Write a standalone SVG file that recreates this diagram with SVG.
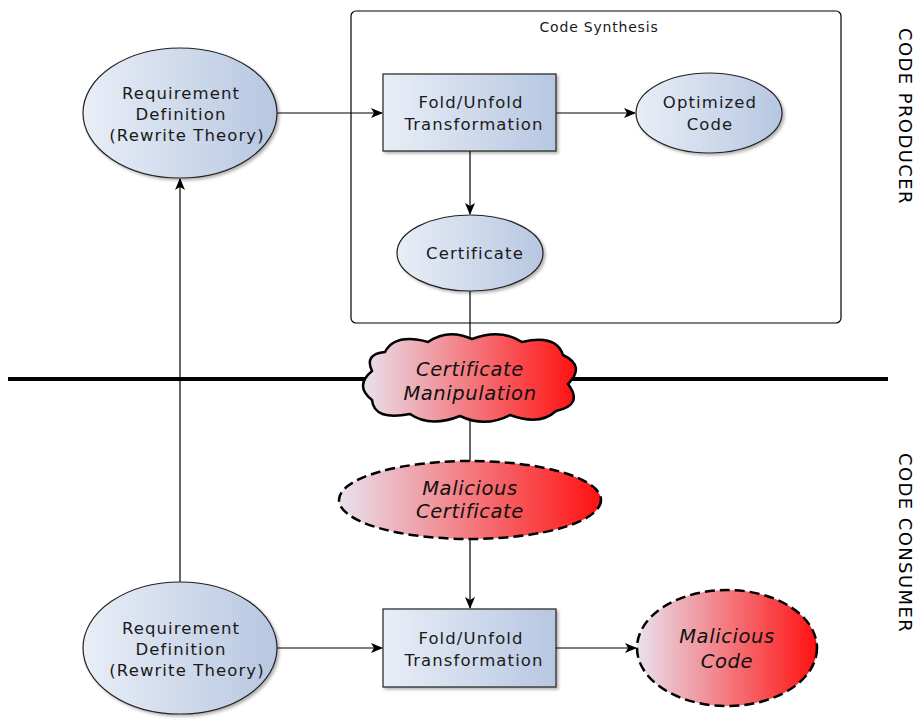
<svg xmlns="http://www.w3.org/2000/svg" width="922" height="722" viewBox="0 0 922 722">
<defs>
<linearGradient id="blue" x1="0" y1="0" x2="1" y2="0">
<stop offset="0" stop-color="#e9eef7"/>
<stop offset="1" stop-color="#b7c7e1"/>
</linearGradient>
<linearGradient id="red" x1="0" y1="0" x2="1" y2="0">
<stop offset="0" stop-color="#e8e2ee"/>
<stop offset="1" stop-color="#ff1111"/>
</linearGradient>
<filter id="sh" x="-10%" y="-10%" width="130%" height="130%">
<feDropShadow dx="2" dy="2" stdDeviation="1.5" flood-color="#000" flood-opacity="0.3"/>
</filter>
<marker id="arr" viewBox="0 0 12 10" refX="11" refY="5" markerWidth="12" markerHeight="10" markerUnits="userSpaceOnUse" orient="auto">
<path d="M0,0 L12,5 L0,10 L3,5 Z" fill="#000"/>
</marker>
<style>
.lbl{font-family:"DejaVu Sans",sans-serif;font-size:16.5px;letter-spacing:1.1px;fill:#1a1a1a;text-anchor:middle}
.it{font-family:"DejaVu Sans",sans-serif;font-size:19.5px;letter-spacing:0.6px;font-style:italic;fill:#111;text-anchor:middle}
.side{font-family:"DejaVu Sans",sans-serif;font-size:18px;letter-spacing:1.4px;fill:#000}
.bn{fill:url(#blue);stroke:#222;stroke-width:1.2}
.rn{fill:url(#red);stroke:#000;stroke-width:2.5}
.dash{stroke-dasharray:10,5}
.c{fill:none;stroke:#000;stroke-width:1.2}
</style>
</defs>
<rect x="0" y="0" width="922" height="722" fill="#fff"/>

<g id="codeSynthesis">
<rect x="351" y="11" width="490" height="312" rx="5" fill="none" stroke="#000" stroke-width="1.2"/>
<text x="599" y="32" class="lbl" style="font-size:14px;letter-spacing:0.8px">Code Synthesis</text>
</g>

<g id="divider">
<line x1="8" y1="379" x2="888" y2="379" stroke="#000" stroke-width="4"/>
</g>

<g id="connectors">
<line x1="277" y1="113" x2="382" y2="113" class="c" marker-end="url(#arr)"/>
<line x1="556" y1="113" x2="635" y2="113" class="c" marker-end="url(#arr)"/>
<line x1="470" y1="151" x2="470" y2="214" class="c" marker-end="url(#arr)"/>
<line x1="470" y1="291" x2="470" y2="340" class="c"/>
<line x1="470" y1="418" x2="470" y2="461" class="c"/>
<line x1="470" y1="539" x2="470" y2="608" class="c" marker-end="url(#arr)"/>
<line x1="180" y1="582" x2="180" y2="179" class="c" marker-end="url(#arr)"/>
<line x1="277" y1="648" x2="382" y2="648" class="c" marker-end="url(#arr)"/>
<line x1="556" y1="648" x2="636" y2="648" class="c" marker-end="url(#arr)"/>
</g>

<g id="reqTop">
<ellipse cx="180" cy="113" rx="97" ry="65" class="bn" filter="url(#sh)"/>
<text x="181" y="99" class="lbl">Requirement</text>
<text x="181" y="120" class="lbl">Definition</text>
<text x="187" y="141" class="lbl">(Rewrite Theory)</text>
</g>

<g id="foldTop">
<rect x="383" y="74" width="173" height="77" class="bn" filter="url(#sh)"/>
<text x="471" y="108" class="lbl">Fold/Unfold</text>
<text x="474" y="130" class="lbl">Transformation</text>
</g>

<g id="optimized">
<ellipse cx="709" cy="113" rx="73" ry="40" class="bn" filter="url(#sh)"/>
<text x="710" y="108" class="lbl">Optimized</text>
<text x="710" y="130" class="lbl">Code</text>
</g>

<g id="certificate">
<ellipse cx="470" cy="253" rx="73" ry="38" class="bn" filter="url(#sh)"/>
<text x="475" y="259" class="lbl">Certificate</text>
</g>

<g id="manipulation">
<path d="M385,352 Q395,333 428,342 Q448,328 472,339 Q500,328 522,342 Q556,334 563,355 Q586,366 568,384 Q584,405 556,411 Q540,426 510,415 Q485,428 460,416 Q430,428 410,414 Q374,421 372,400 Q354,386 372,371 Q364,354 385,352 Z" class="rn"/>
<text x="470" y="376" class="it">Certificate</text>
<text x="470" y="400" class="it">Manipulation</text>
</g>

<g id="malCert">
<ellipse cx="470" cy="500" rx="131" ry="39" class="rn dash"/>
<text x="470" y="495" class="it">Malicious</text>
<text x="470" y="518" class="it">Certificate</text>
</g>

<g id="reqBottom">
<ellipse cx="180" cy="648" rx="97" ry="66" class="bn" filter="url(#sh)"/>
<text x="181" y="634" class="lbl">Requirement</text>
<text x="181" y="655" class="lbl">Definition</text>
<text x="187" y="676" class="lbl">(Rewrite Theory)</text>
</g>

<g id="foldBottom">
<rect x="383" y="609" width="173" height="78" class="bn" filter="url(#sh)"/>
<text x="471" y="644" class="lbl">Fold/Unfold</text>
<text x="474" y="666" class="lbl">Transformation</text>
</g>

<g id="malCode">
<ellipse cx="727" cy="648" rx="90" ry="58" class="rn dash"/>
<text x="727" y="643" class="it">Malicious</text>
<text x="727" y="668" class="it">Code</text>
</g>

<g id="sideLabels">
<text class="side" transform="translate(899,28) rotate(90)">CODE PRODUCER</text>
<text class="side" transform="translate(899,453) rotate(90)">CODE CONSUMER</text>
</g>
</svg>
